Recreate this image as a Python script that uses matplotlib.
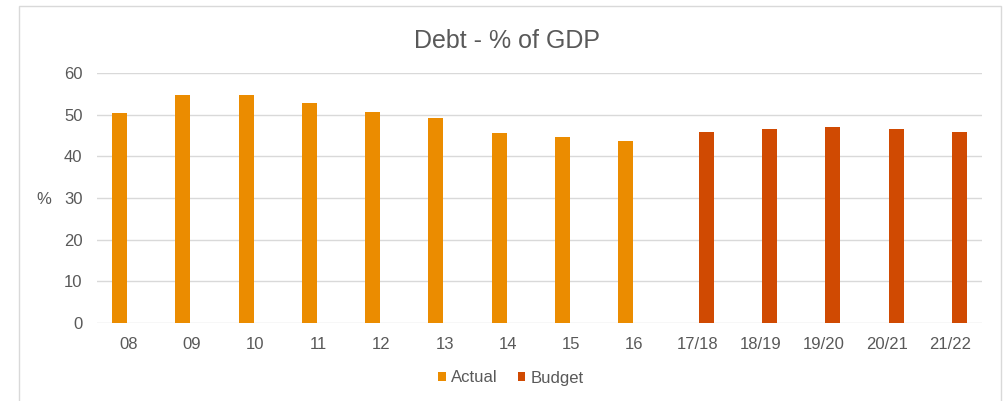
import matplotlib
matplotlib.use("Agg")
import matplotlib.pyplot as plt
import numpy as np
from matplotlib.patches import Rectangle

categories = ["08", "09", "10", "11", "12", "13", "14", "15", "16",
              "17/18", "18/19", "19/20", "20/21", "21/22"]
actual = [50.4, 54.6, 54.6, 52.8, 50.6, 49.3, 45.7, 44.6, 43.7,
          None, None, None, None, None]
budget = [None, None, None, None, None, None, None, None, None,
          45.9, 46.5, 47.0, 46.5, 45.9]
yticks = [0, 10, 20, 30, 40, 50, 60]

c_actual = "#EB8C00"
c_budget = "#D04A02"
txt = "#595959"

plt.rcParams['font.family'] = ['Liberation Sans', 'DejaVu Sans']

W, H = 1004, 401
fig = plt.figure(figsize=(W / 100, H / 100), dpi=100)
fig.patch.set_facecolor("white")

# chart border
fig.patches.append(Rectangle((19 / W, -0.1), (1001 - 19) / W, 1 - 6 / H + 0.1,
                             transform=fig.transFigure, fill=False,
                             edgecolor="#D9D9D9", linewidth=1))

left, right, top, bottom = 97, 982, 73, 323
ax = fig.add_axes([left / W, 1 - bottom / H, (right - left) / W, (bottom - top) / H])

x = np.arange(len(categories))
a = np.array([np.nan if v is None else v for v in actual], dtype=float)
b = np.array([np.nan if v is None else v for v in budget], dtype=float)
w = 0.237
ax.bar(x - 0.14, a, width=w, color=c_actual, label="Actual", zorder=3)
ax.bar(x + 0.14, b, width=w, color=c_budget, label="Budget", zorder=3)

ax.set_xlim(-0.5, len(categories) - 0.5)
ax.set_ylim(0, 60)
ax.set_yticks(yticks)
ax.set_xticks(x)
ax.set_xticklabels(categories)
ax.grid(axis="y", color="#D9D9D9", linewidth=1, zorder=0)
ax.set_axisbelow(True)
for s in ax.spines.values():
    s.set_visible(False)
ax.tick_params(axis="both", length=0, colors=txt, labelsize=12)
ax.tick_params(axis="y", pad=10.5)
ax.tick_params(axis="x", pad=10)

fig.text(44 / W, 1 - 199 / H, "%", ha="center", va="center", color=txt, fontsize=12)
fig.text(507 / W, 1 - 48 / H, "Debt - % of GDP", ha="center", va="baseline",
         color=txt, fontsize=18)

leg = fig.legend(loc="center", bbox_to_anchor=(511 / W, 1 - 378 / H), ncol=2,
                 frameon=False, fontsize=12, handlelength=0.46, handleheight=0.46,
                 handletextpad=0.3, columnspacing=1.2, labelcolor=txt,
                 borderpad=0, borderaxespad=0)

fig.savefig("out.png", dpi=100, facecolor="white")
